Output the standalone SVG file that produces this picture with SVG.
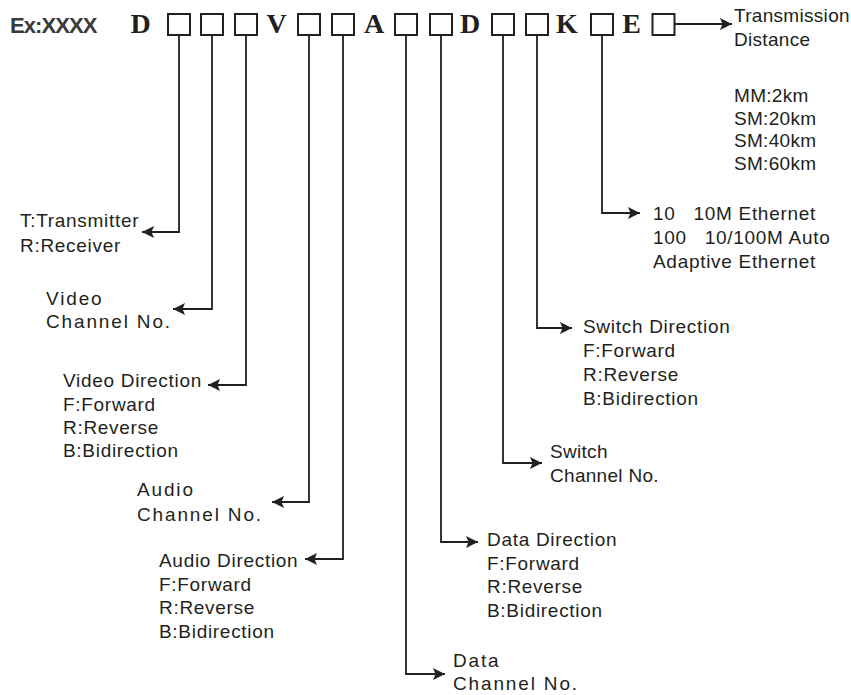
<svg xmlns="http://www.w3.org/2000/svg" width="851" height="695" viewBox="0 0 851 695">
<style>
.t{font-family:"Liberation Sans",Arial,sans-serif;font-size:19px;fill:#231f20;letter-spacing:0.7px}
.w{letter-spacing:1.85px}
.s{letter-spacing:0.3px}
.L{font-family:"Liberation Serif","Times New Roman",serif;font-weight:bold;font-size:28px;fill:#231f20;text-anchor:middle}
.ex{font-family:"Liberation Sans",Arial,sans-serif;font-weight:bold;font-size:22px;fill:#3a3a3a;letter-spacing:-0.9px}
.b{fill:#fff;stroke:#231f20;stroke-width:2}
.c{fill:none;stroke:#231f20;stroke-width:1.8;marker-end:url(#ah)}
</style>
<defs>
<marker id="ah" markerUnits="userSpaceOnUse" markerWidth="14" markerHeight="14" refX="12" refY="6" orient="auto" viewBox="0 0 14 12">
<path d="M0,0 L12,6 L0,12 L2.5,6 Z" fill="#231f20"/>
</marker>
</defs>
<rect width="851" height="695" fill="#fff"/>
<g id="code">
<text class="ex" x="10" y="33">Ex:XXXX</text>
<text class="L" x="140.5" y="33">D</text>
<text class="L" x="276.5" y="33">V</text>
<text class="L" x="374" y="33">A</text>
<text class="L" x="470" y="33">D</text>
<text class="L" x="567" y="33">K</text>
<text class="L" x="631.5" y="33">E</text>
</g>
<g id="boxes">
<rect id="b1" class="b" x="168" y="14" width="22" height="21"/>
<rect id="b2" class="b" x="201" y="14" width="22" height="21"/>
<rect id="b3" class="b" x="235" y="14" width="22" height="21"/>
<rect id="b4" class="b" x="298" y="14" width="22" height="21"/>
<rect id="b5" class="b" x="332" y="14" width="22" height="21"/>
<rect id="b6" class="b" x="395" y="14" width="22" height="21"/>
<rect id="b7" class="b" x="430" y="14" width="22" height="21"/>
<rect id="b8" class="b" x="492" y="14" width="22" height="21"/>
<rect id="b9" class="b" x="526" y="14" width="22" height="21"/>
<rect id="b10" class="b" x="591" y="14" width="22" height="21"/>
<rect id="b11" class="b" x="652.5" y="14" width="22" height="21"/>
</g>
<g id="connectors">
<path class="c" d="M179,36 V232 H142"/>
<path class="c" d="M212,36 V309 H173"/>
<path class="c" d="M246,36 V385 H208"/>
<path class="c" d="M309,36 V502 H272"/>
<path class="c" d="M343,36 V559 H305"/>
<path class="c" d="M406,36 V674 H445"/>
<path class="c" d="M441,36 V542 H478"/>
<path class="c" d="M503,36 V463 H542"/>
<path class="c" d="M537,36 V328 H572"/>
<path class="c" d="M602,36 V213 H640"/>
<path class="c" d="M675,24 H732"/>
</g>
<g id="n-transmitter">
<text class="t" x="20" y="227">T:Transmitter</text>
<text class="t" x="20" y="252">R:Receiver</text>
</g>
<g id="n-video-ch">
<text class="t w" x="46" y="305">Video</text>
<text class="t w" x="46" y="328">Channel No.</text>
</g>
<g id="n-video-dir">
<text class="t" x="63" y="387">Video Direction</text>
<text class="t" x="63" y="411">F:Forward</text>
<text class="t" x="63" y="434">R:Reverse</text>
<text class="t" x="63" y="457">B:Bidirection</text>
</g>
<g id="n-audio-ch">
<text class="t w" x="137" y="496">Audio</text>
<text class="t w" x="137" y="521">Channel No.</text>
</g>
<g id="n-audio-dir">
<text class="t" x="159" y="567">Audio Direction</text>
<text class="t" x="159" y="590.5">F:Forward</text>
<text class="t" x="159" y="614">R:Reverse</text>
<text class="t" x="159" y="637.5">B:Bidirection</text>
</g>
<g id="n-data-ch">
<text class="t w" x="453" y="667">Data</text>
<text class="t w" x="453" y="690">Channel No.</text>
</g>
<g id="n-data-dir">
<text class="t" x="487" y="546">Data Direction</text>
<text class="t" x="487" y="569.5">F:Forward</text>
<text class="t" x="487" y="593">R:Reverse</text>
<text class="t" x="487" y="616.5">B:Bidirection</text>
</g>
<g id="n-switch-ch">
<text class="t s" x="550" y="458">Switch</text>
<text class="t s" x="550" y="482">Channel No.</text>
</g>
<g id="n-switch-dir">
<text class="t" x="583" y="333">Switch Direction</text>
<text class="t" x="583" y="357">F:Forward</text>
<text class="t" x="583" y="381">R:Reverse</text>
<text class="t" x="583" y="405">B:Bidirection</text>
</g>
<g id="n-ethernet">
<text class="t" x="653" y="220" xml:space="preserve">10   10M Ethernet</text>
<text class="t" x="653" y="244" xml:space="preserve">100   10/100M Auto</text>
<text class="t" x="653" y="268">Adaptive Ethernet</text>
</g>
<g id="n-distance">
<text class="t s" x="734" y="22">Transmission</text>
<text class="t s" x="734" y="46">Distance</text>
<text class="t s" x="734" y="102">MM:2km</text>
<text class="t s" x="734" y="124.5">SM:20km</text>
<text class="t s" x="734" y="147">SM:40km</text>
<text class="t s" x="734" y="169.5">SM:60km</text>
</g>
</svg>
